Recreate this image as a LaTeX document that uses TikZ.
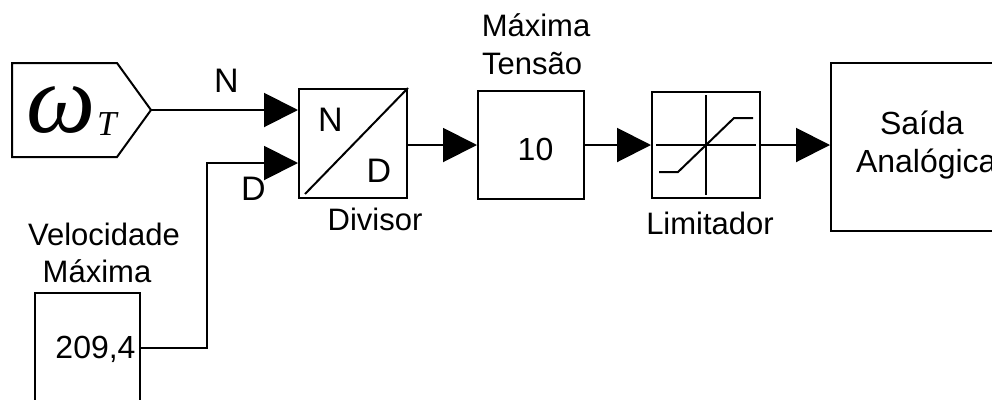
\documentclass[tikz,border=0pt]{standalone}
\usepackage{fontspec}
\setmainfont{Liberation Sans}
\newfontfamily\omegafam{Liberation Serif}
\usetikzlibrary{arrows.meta}
\begin{document}
\begin{tikzpicture}[x=1pt,y=-1pt, line width=2pt,
  blk/.style={draw, inner sep=0pt, line width=2pt},
  txt/.style={inner sep=0pt, anchor=base},
  labtxt/.style={txt, font=\fontsize{31}{35}\selectfont},
  inntxt/.style={txt, font=\fontsize{32}{36}\selectfont},
  ndtxt/.style={txt, font=\fontsize{34}{36}\selectfont},
  arr/.style={-{Triangle[length=34pt,width=34pt]}, line width=2pt}
]
\useasboundingbox (0,0) rectangle (992,399);
\clip (0,0) rectangle (992,399);

% source block
\draw (12,63) -- (117,63) -- (151,110) -- (117,157) -- (12,157) -- cycle;
\coordinate (srcout) at (151,110);
\node[inner sep=0pt, anchor=base west, font=\omegafam\itshape\fontsize{98}{100}\selectfont] (om) at (26,132) {ω};
\node[inner sep=0pt, anchor=base west, font=\omegafam\itshape\fontsize{35}{38}\selectfont] (omT) at (96,135) {T};

% blocks
\node[blk, minimum width=108pt, minimum height=109pt] (div) at (353,143.5) {};
\draw ([shift={(7,-5)}]div.south west) -- (div.north east);
\node[blk, minimum width=106pt, minimum height=108pt] (gain) at (531,145) {};
\node[blk, minimum width=108pt, minimum height=106pt] (lim) at (706,145) {};
\draw ([shift={(-50,0)}]lim.center) -- ([shift={(50,0)}]lim.center);
\draw ([shift={(0,-50)}]lim.center) -- ([shift={(0,50)}]lim.center);
\draw ([shift={(-47,27)}]lim.center) -- ++(19,0) -- ++(56,-54) -- ++(19,0);
\node[blk, minimum width=190pt, minimum height=168pt] (sai) at (926,147) {};
\node[blk, minimum width=105pt, minimum height=110pt] (vel) at (87.5,348) {};

% connectors
\draw[arr] (srcout) -- (srcout -| div.west);
\coordinate (dbend) at (207,163);
\draw[arr] (vel.east) -| (dbend) -- (dbend -| div.west);
\draw[arr] (div.east |- gain.west) -- (gain.west);
\draw[arr] (gain.east) -- (lim.west);
\draw[arr] (lim.east) -- (lim.east -| sai.west);

% texts
\node[labtxt] (velA) at (104,245) {Velocidade};
\node[labtxt] (velB) at (97,282) {Máxima};
\node[inntxt] (velv) at (95.5,358) {209,4};
\node[labtxt] (gainA) at (536,36) {Máxima};
\node[labtxt] (gainB) at (532,74) {Tensão};
\node[inntxt] (gainv) at (535.5,160) {10};
\node[labtxt] (divl) at (375,230) {Divisor};
\node[labtxt] (liml) at (710,234) {Limitador};
\node[inntxt, anchor=base west] (saiA) at (879,134) {Saída};
\node[inntxt, anchor=base west] (saiB) at (855,172) {Analógica};
\node[ndtxt] (nl) at (226.5,92) {N};
\node[ndtxt] (dl) at (253.5,200) {D};
\node[ndtxt] (dn) at (330.5,131) {N};
\node[ndtxt] (dd) at (379,182) {D};
\end{tikzpicture}
\end{document}
